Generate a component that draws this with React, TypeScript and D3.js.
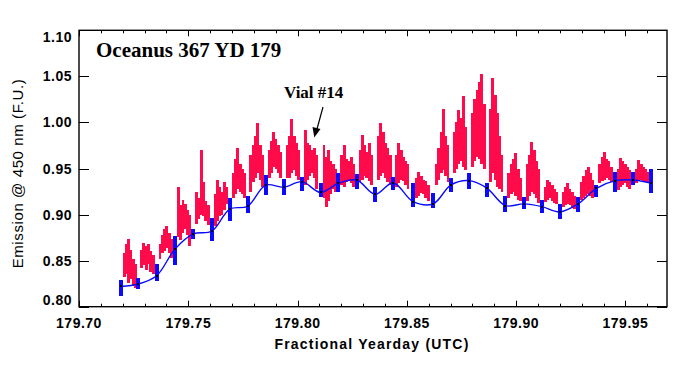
import * as d3 from "d3";

// ── Data ──────────────────────────────────────────────────────────────────────

const yTickValues = [0.8, 0.85, 0.9, 0.95, 1.0, 1.05, 1.1];
const xTickValues = [179.7, 179.75, 179.8, 179.85, 179.9, 179.95];

/** Discrete (blue) sample times, fractional yearday */
const blueDays = [
  179.7191, 179.7271, 179.7355, 179.7439, 179.7523, 179.7607, 179.769, 179.7771,
  179.7854, 179.7937, 179.802, 179.8105, 179.8187, 179.827, 179.8355, 179.8437,
  179.8529, 179.862, 179.8701, 179.8785, 179.8867, 179.8951, 179.9035, 179.9118,
  179.9199, 179.9283, 179.9367, 179.9451, 179.9535, 179.9619,
];
/** Mean of each discrete sample (black dot, smoothed line) */
const blueMean = [
  0.822, 0.8246, 0.8336, 0.8625, 0.879, 0.882, 0.906, 0.909, 0.932, 0.9296,
  0.9357, 0.924, 0.934, 0.9375, 0.922, 0.9346, 0.914, 0.9116, 0.932, 0.9368,
  0.9285, 0.9097, 0.9116, 0.9086, 0.903, 0.9116, 0.9285, 0.9365, 0.9375, 0.934,
];
const blueHigh = [
  0.829, 0.831, 0.8466, 0.877, 0.8845, 0.8964, 0.918, 0.92, 0.943, 0.9386,
  0.941, 0.934, 0.945, 0.944, 0.93, 0.941, 0.934, 0.9235, 0.9397, 0.945,
  0.934, 0.92, 0.919, 0.916, 0.9116, 0.919, 0.932, 0.946, 0.946, 0.9495,
];
const blueLow = [
  0.812, 0.819, 0.828, 0.8455, 0.8737, 0.8715, 0.893, 0.902, 0.921, 0.921,
  0.9256, 0.919, 0.9245, 0.928, 0.9137, 0.9267, 0.908, 0.907, 0.9245, 0.928,
  0.919, 0.903, 0.906, 0.902, 0.8953, 0.903, 0.919, 0.9245, 0.932, 0.9235,
];

/** Continuous (red) trace: one burst after each blue sample, 6 strokes each */
const redHigh = [
  [0.858, 0.868, 0.873, 0.862, 0.852, 0.846],
  [0.862, 0.869, 0.866, 0.868, 0.86, 0.856],
  [0.868, 0.878, 0.884, 0.888, 0.88, 0.874],
  [0.93, 0.91, 0.916, 0.912, 0.905, 0.9],
  [0.925, 0.918, 0.97, 0.935, 0.915, 0.91],
  [0.922, 0.937, 0.93, 0.925, 0.935, 0.93],
  [0.945, 0.96, 0.972, 0.955, 0.95, 0.945],
  [0.965, 0.975, 0.985, 0.999, 0.975, 0.965],
  [0.97, 0.98, 0.99, 0.982, 0.975, 0.968],
  [0.975, 0.985, 1.004, 0.985, 0.978, 0.97],
  [0.992, 0.978, 0.975, 0.97, 0.972, 0.965],
  [0.975, 0.962, 0.97, 0.958, 0.955, 0.95],
  [0.965, 0.975, 0.96, 0.958, 0.962, 0.955],
  [0.97, 0.986, 0.975, 0.968, 0.978, 0.965],
  [0.985, 0.999, 0.99, 0.978, 0.972, 0.965],
  [0.965, 0.978, 0.97, 0.962, 0.958, 0.955],
  [0.94, 0.946, 0.942, 0.938, 0.936, 0.932],
  [0.955, 0.972, 0.99, 1.015, 0.985, 0.975],
  [0.99, 1.0, 1.013, 1.005, 1.029, 0.995],
  [1.01, 1.025, 1.035, 1.044, 1.053, 1.02],
  [1.015, 1.048, 1.03, 1.01, 0.985, 0.965],
  [0.945, 0.955, 0.96, 0.967, 0.95, 0.94],
  [0.955, 0.965, 0.979, 0.97, 0.958, 0.95],
  [0.93, 0.938, 0.935, 0.932, 0.928, 0.925],
  [0.925, 0.93, 0.934, 0.928, 0.925, 0.92],
  [0.935, 0.942, 0.948, 0.952, 0.945, 0.938],
  [0.955, 0.962, 0.968, 0.96, 0.958, 0.952],
  [0.95, 0.961, 0.958, 0.955, 0.952, 0.948],
  [0.95, 0.959, 0.955, 0.952, 0.95, 0.946],
];
const redLow = [
  [0.832, 0.836, 0.826, 0.83, 0.822, 0.82],
  [0.842, 0.845, 0.84, 0.846, 0.838, 0.836],
  [0.852, 0.858, 0.86, 0.864, 0.858, 0.853],
  [0.876, 0.872, 0.88, 0.884, 0.878, 0.866],
  [0.89, 0.895, 0.9, 0.898, 0.893, 0.889],
  [0.888, 0.893, 0.898, 0.9, 0.905, 0.912],
  [0.918, 0.922, 0.928, 0.925, 0.922, 0.918],
  [0.925, 0.935, 0.94, 0.945, 0.938, 0.93],
  [0.94, 0.945, 0.952, 0.95, 0.945, 0.94],
  [0.94, 0.94, 0.945, 0.948, 0.942, 0.937],
  [0.932, 0.938, 0.942, 0.945, 0.94, 0.928],
  [0.918, 0.908, 0.915, 0.922, 0.928, 0.925],
  [0.932, 0.93, 0.935, 0.938, 0.934, 0.93],
  [0.935, 0.938, 0.942, 0.94, 0.936, 0.932],
  [0.938, 0.942, 0.945, 0.94, 0.935, 0.932],
  [0.93, 0.934, 0.938, 0.936, 0.932, 0.928],
  [0.918, 0.92, 0.923, 0.922, 0.918, 0.915],
  [0.932, 0.938, 0.945, 0.948, 0.942, 0.935],
  [0.945, 0.95, 0.955, 0.958, 0.952, 0.948],
  [0.952, 0.958, 0.962, 0.96, 0.955, 0.95],
  [0.935, 0.945, 0.938, 0.93, 0.928, 0.925],
  [0.918, 0.922, 0.925, 0.92, 0.916, 0.915],
  [0.915, 0.92, 0.925, 0.922, 0.918, 0.913],
  [0.914, 0.916, 0.918, 0.915, 0.913, 0.912],
  [0.908, 0.91, 0.912, 0.91, 0.907, 0.906],
  [0.916, 0.918, 0.92, 0.922, 0.92, 0.918],
  [0.934, 0.936, 0.938, 0.94, 0.937, 0.935],
  [0.927, 0.93, 0.932, 0.934, 0.93, 0.928],
  [0.934, 0.936, 0.938, 0.936, 0.935, 0.934],
];

// ── Layout ────────────────────────────────────────────────────────────────────

const W = 692;
const H = 369;
const PLOT = { left: 79, right: 667, top: 30.3, bottom: 306.7 };
const RED = "#ff0a4a";
const BLUE = "#0a0aff";
const SANS = "'Liberation Sans', Arial, sans-serif";
const SERIF = "'Liberation Serif', 'Times New Roman', serif";

const STROKE_OFFSET = 0.0009; // days after a blue sample where the red burst starts
const STROKE_STEP = 0.00105; // days between red strokes

export default function App() {
  const x = d3.scaleLinear().domain([179.7, 179.969]).range([PLOT.left, PLOT.right]);
  const y = d3.scaleLinear().domain([0.8, 1.1]).range([PLOT.bottom, PLOT.top]);

  const minorX = d3.range(0, 27).map((i) => 179.7 + i * 0.01);
  const stepPx = x(179.7 + STROKE_STEP) - x(179.7);

  const meanLine = d3
    .line<number>()
    .x((_, i) => x(blueDays[i]))
    .y((d) => y(d))
    .curve(d3.curveCatmullRom.alpha(0.5));

  const clampLabel = (v: number) =>
    Math.min(Math.max(y(v), PLOT.top + 7), PLOT.bottom - 7);

  return (
    <svg
      width={W}
      height={H}
      style={{ position: "absolute", left: 0, top: 0, background: "#fff" }}
    >
      {/* Red continuous trace */}
      <g fill={RED} shapeRendering="crispEdges">
        {redHigh.map((burst, c) =>
          burst.map((hi, i) => {
            const lo = redLow[c][i];
            const xs = x(blueDays[c] + STROKE_OFFSET + i * STROKE_STEP);
            return (
              <rect
                key={`${c}-${i}`}
                x={xs}
                y={y(hi)}
                width={stepPx + 0.6}
                height={y(lo) - y(hi)}
              />
            );
          })
        )}
      </g>

      {/* Smoothed blue line */}
      <path d={meanLine(blueMean) ?? ""} fill="none" stroke={BLUE} strokeWidth={1.4} />

      {/* Blue discrete samples */}
      <g fill={BLUE} shapeRendering="crispEdges">
        {blueDays.map((d, i) => (
          <rect
            key={i}
            x={x(d) - 2}
            y={y(blueHigh[i])}
            width={4}
            height={y(blueLow[i]) - y(blueHigh[i])}
          />
        ))}
      </g>
      <g fill="#000" shapeRendering="crispEdges">
        {blueDays.map((d, i) => (
          <rect key={i} x={x(d) - 1} y={y(blueMean[i]) - 1} width={2} height={2} />
        ))}
      </g>

      {/* Frame */}
      <rect
        x={PLOT.left}
        y={PLOT.top}
        width={PLOT.right - PLOT.left}
        height={PLOT.bottom - PLOT.top}
        fill="none"
        stroke="#000"
        strokeWidth={1.4}
      />

      {/* X ticks (top and bottom, inward) */}
      <g stroke="#000" strokeWidth={1}>
        {minorX.map((v, i) => {
          const major = i % 5 === 0;
          const len = major ? 6 : 3;
          const px = Math.round(x(v)) + 0.5;
          return (
            <g key={i}>
              <line x1={px} x2={px} y1={PLOT.bottom} y2={PLOT.bottom - len} />
              <line x1={px} x2={px} y1={PLOT.top} y2={PLOT.top + len} />
            </g>
          );
        })}
        {yTickValues.map((v) => {
          const py = Math.round(y(v)) + 0.5;
          return (
            <g key={v}>
              <line x1={PLOT.left} x2={PLOT.left + 10} y1={py} y2={py} />
              <line x1={PLOT.right} x2={PLOT.right - 10} y1={py} y2={py} />
            </g>
          );
        })}
      </g>

      {/* Tick labels */}
      <g fontFamily={SANS} fontWeight="bold" fontSize={14} fill="#000" letterSpacing={0.5}>
        {yTickValues.map((v) => (
          <text key={v} x={72} y={clampLabel(v)} textAnchor="end" dominantBaseline="central">
            {v.toFixed(2)}
          </text>
        ))}
        {xTickValues.map((v) => (
          <text key={v} x={x(v)} y={328} textAnchor="middle">
            {v.toFixed(2)}
          </text>
        ))}
      </g>

      {/* Axis titles */}
      <text
        x={372}
        y={349}
        textAnchor="middle"
        fontFamily={SANS}
        fontWeight="bold"
        fontSize={14}
        letterSpacing={1.2}
      >
        Fractional Yearday (UTC)
      </text>
      <text
        transform={`translate(23,${(PLOT.top + PLOT.bottom) / 2 + 5}) rotate(-90)`}
        textAnchor="middle"
        fontFamily={SANS}
        fontSize={15}
        letterSpacing={0.6}
      >
        Emission @ 450 nm (F.U.)
      </text>

      {/* Annotations */}
      <text x={96} y={57} fontFamily={SERIF} fontWeight="bold" fontSize={21}>
        Oceanus 367 YD 179
      </text>
      <text x={284} y={98} fontFamily={SERIF} fontWeight="bold" fontSize={17}>
        Vial #14
      </text>
      <line x1={323} y1={107} x2={317} y2={129} stroke="#000" strokeWidth={1.2} />
      <path d="M314.3,137.5 L312.5,127 L320.5,129 Z" fill="#000" />
    </svg>
  );
}
